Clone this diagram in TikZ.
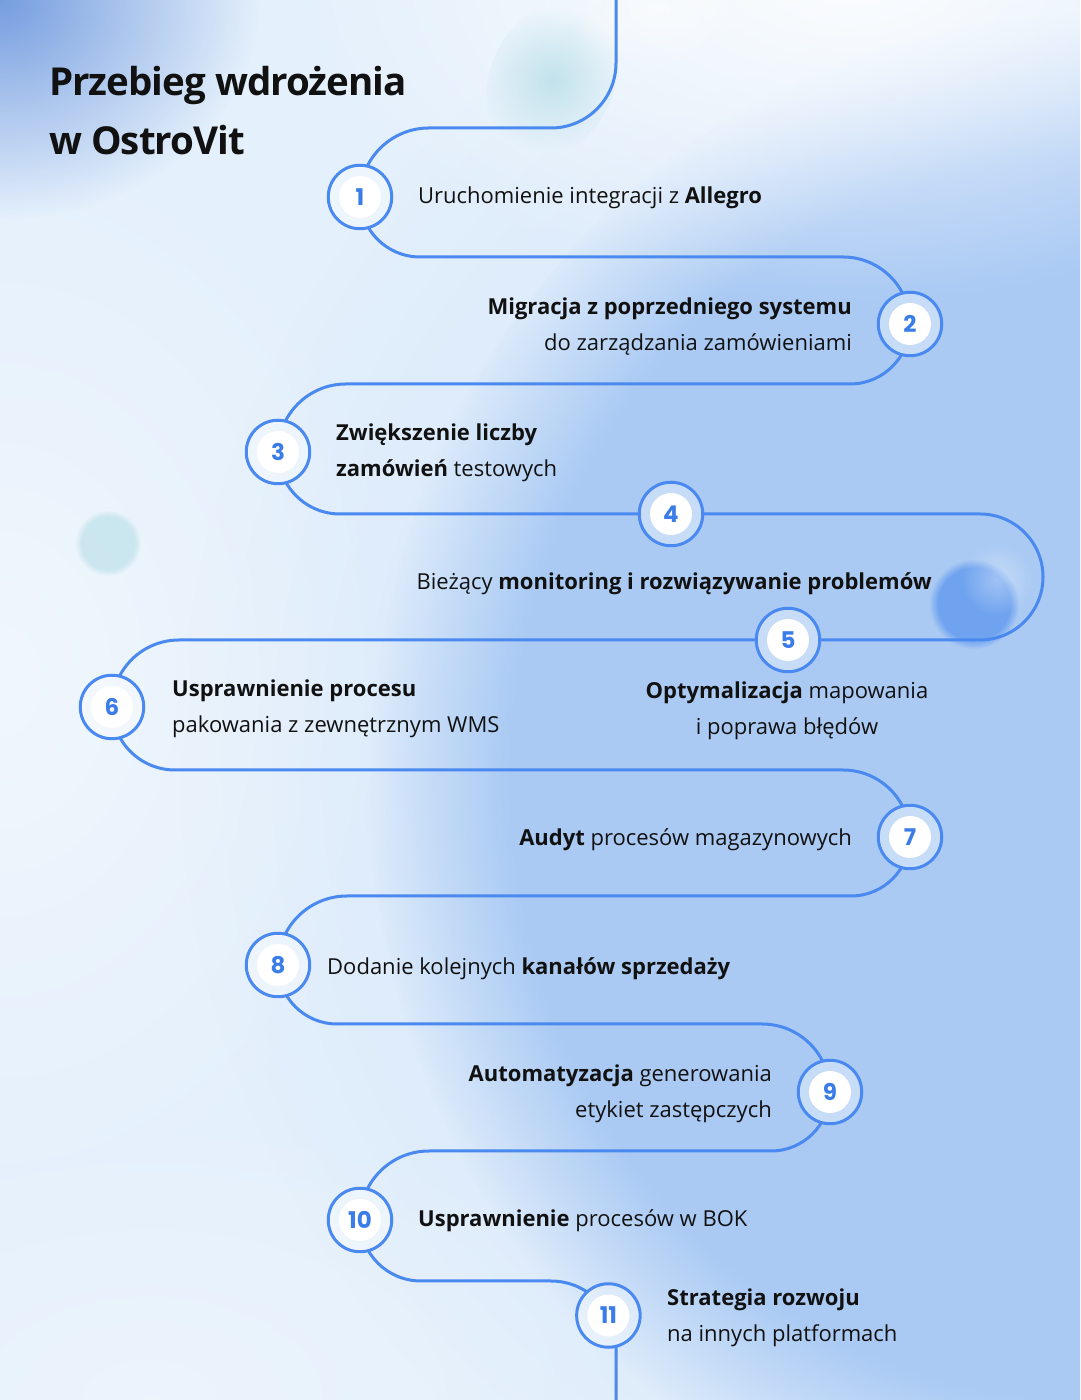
\documentclass[tikz,border=0pt]{standalone}
\usepackage{fontspec}
\setmainfont{Open Sans}
\newfontfamily\numfont{Poppins}
\usetikzlibrary{fadings}
\definecolor{track}{HTML}{4A89EF}
\definecolor{numblue}{HTML}{3A7CE8}
\definecolor{basebg}{HTML}{E4F0FC}
\definecolor{bluebg}{HTML}{AACAF4}
\definecolor{cornerblue}{HTML}{7099DE}
\definecolor{tealblob}{HTML}{BDE1EA}
\definecolor{blueblob}{HTML}{5C97EE}
\definecolor{ink}{HTML}{111111}
\tikzfading[name=fadeout, inner color=transparent!0, outer color=transparent!100]
\pgfdeclarelayer{bg}
\pgfdeclarelayer{trk}
\pgfsetlayers{bg,trk,main}
\begin{document}
\begin{tikzpicture}[x=1pt,y=1pt,
  marker/.style={circle, draw=track, line width=3pt, minimum size=63.5pt, inner sep=0pt,
    fill=white, fill opacity=0.35, text opacity=1, text=numblue,
    font=\numfont\bfseries\fontsize{23}{23}\selectfont,
    path picture={\fill[white, fill opacity=1] (path picture bounding box.center) circle[radius=21];}},
  desc/.style={font=\fontsize{22}{36}\selectfont, text=ink, inner sep=0pt},
  trackline/.style={draw=track, line width=3pt, line join=round},
]
\useasboundingbox (0,0) rectangle (1080,1400);

% ---------- background ----------
\begin{pgfonlayer}{bg}
\begin{scope}
\clip (0,0) rectangle (1080,1400);
\fill[basebg] (0,0) rectangle (1080,1400);
\fill[bluebg, opacity=0.5, path fading=fadeout] (1080,640) ellipse[x radius=900, y radius=900];
\fill[bluebg, path fading=circle with fuzzy edge 20 percent] (1090,620) ellipse[x radius=720, y radius=770];
\fill[white, opacity=0.9, path fading=fadeout] (850,1430) ellipse[x radius=560, y radius=330];
\fill[white, opacity=0.45, path fading=fadeout] (0,720) ellipse[x radius=420, y radius=560];
\fill[white, opacity=0.3, path fading=fadeout] (150,0) ellipse[x radius=500, y radius=300];
\fill[cornerblue, opacity=0.95, path fading=fadeout] (0,1400) ellipse[x radius=260, y radius=220];
\fill[tealblob, opacity=0.9, path fading=fadeout, rotate around={-25:(552,1320)}] (552,1320) ellipse[x radius=62, y radius=80];
\fill[white, opacity=0.5, path fading=fadeout] (655,1390) ellipse[x radius=90, y radius=60];
\fill[tealblob, opacity=0.7, path fading=circle with fuzzy edge 20 percent] (108,857) circle[radius=33];
\fill[blueblob, opacity=0.75, path fading=circle with fuzzy edge 20 percent] (974,796) circle[radius=45];
\fill[white, opacity=0.35, path fading=fadeout] (997,820) circle[radius=36];
\end{scope}
\end{pgfonlayer}

% ---------- title ----------
\node[anchor=base west, align=left, inner sep=0pt, text=ink,
      font=\bfseries\fontsize{38.5}{59}\selectfont\addfontfeature{LetterSpace=-2.5}] (title) at (49,1245)
      {Przebieg wdrożenia\\w OstroVit};

% ---------- markers ----------
\node[marker] (m1) at (360,1203) {1};
\node[marker] (m2) at (910,1076) {2};
\node[marker] (m3) at (278,948) {3};
\node[marker] (m4) at (671,886) {4};
\node[marker] (m5) at (788,760) {5};
\node[marker] (m6) at (112,693) {6};
\node[marker] (m7) at (910,563) {7};
\node[marker] (m8) at (278,435) {8};
\node[marker] (m9) at (830,308) {9};
\node[marker] (m10) at (360,180) {10};
\node[marker] (m11) at (608.4,84.5) {11};
\coordinate (topend) at (616,1400);
\coordinate (botend) at (616,0);

% ---------- texts (base = baseline of last line) ----------
\node[desc, anchor=base west] (t1) at (418,1196) {Uruchomienie integracji z \textbf{Allegro}};
\node[desc, anchor=base east, align=right] (t2) at (852,1049) {\textbf{Migracja z poprzedniego systemu}\\do zarządzania zamówieniami};
\node[desc, anchor=base west, align=left] (t3) at (336,923) {\textbf{Zwiększenie liczby}\\\textbf{zamówień} testowych};
\node[desc, anchor=base east] (t4) at (932,810) {Bieżący \textbf{monitoring i rozwiązywanie problemów}};
\node[desc, anchor=base, align=center] (t5) at (787,665) {\textbf{Optymalizacja} mapowania\\i poprawa błędów};
\node[desc, anchor=base west, align=left] (t6) at (172,667) {\textbf{Usprawnienie procesu}\\pakowania z zewnętrznym WMS};
\node[desc, anchor=base east] (t7) at (852,554) {\textbf{Audyt} procesów magazynowych};
\node[desc, anchor=base west] (t8) at (327,425) {Dodanie kolejnych \textbf{kanałów sprzedaży}};
\node[desc, anchor=base east, align=right] (t9) at (772,282) {\textbf{Automatyzacja} generowania\\etykiet zastępczych};
\node[desc, anchor=base west] (t10) at (418,173) {\textbf{Usprawnienie} procesów w BOK};
\node[desc, anchor=base west, align=left] (t11) at (667,58) {\textbf{Strategia rozwoju}\\na innych platformach};

% ---------- track ----------
\begin{pgfonlayer}{trk}
\begin{scope}[even odd rule]
\clip (-5,-5) rectangle (1085,1405)
  (m1.center) circle[radius=31] (m2.center) circle[radius=31]
  (m3.center) circle[radius=31] (m4.center) circle[radius=31]
  (m5.center) circle[radius=31] (m6.center) circle[radius=31]
  (m7.center) circle[radius=31] (m8.center) circle[radius=31]
  (m9.center) circle[radius=31] (m10.center) circle[radius=31]
  (m11.center) circle[radius=31];
\draw[trackline] (topend) -- (616,1337) arc[start angle=0,end angle=-90,radius=65]
  -- (429,1272) arc[start angle=90,end angle=180,radius=69] -- (m1.center);
\draw[trackline] (m1.center) arc[start angle=180,end angle=270,radius=60]
  -- (843,1143) arc[start angle=90,end angle=0,radius=67] -- (m2.center);
\draw[trackline] (m2.center) arc[start angle=0,end angle=-90,radius=60]
  -- (346,1016) arc[start angle=90,end angle=180,radius=68] -- (m3.center);
\draw[trackline] (m3.center) arc[start angle=180,end angle=270,radius=62] -- (m4.center);
\draw[trackline] (m4.center) -- (980,886) arc[start angle=90,end angle=-90,radius=63] -- (m5.center);
\draw[trackline] (m5.center) -- (179,760) arc[start angle=90,end angle=180,radius=67] -- (m6.center);
\draw[trackline] (m6.center) arc[start angle=180,end angle=270,radius=63]
  -- (843,630) arc[start angle=90,end angle=0,radius=67] -- (m7.center);
\draw[trackline] (m7.center) arc[start angle=0,end angle=-90,radius=59]
  -- (347,504) arc[start angle=90,end angle=180,radius=69] -- (m8.center);
\draw[trackline] (m8.center) arc[start angle=180,end angle=270,radius=59]
  -- (762,376) arc[start angle=90,end angle=0,radius=68] -- (m9.center);
\draw[trackline] (m9.center) arc[start angle=0,end angle=-90,radius=59]
  -- (429,249) arc[start angle=90,end angle=180,radius=69] -- (m10.center);
\draw[trackline] (m10.center) arc[start angle=180,end angle=270,radius=61]
  -- (551,119) arc[start angle=90,end angle=28,radius=65] -- (m11.center);
\draw[trackline] (m11.center) arc[start angle=28,end angle=0,radius=65] -- (botend);
\end{scope}
\end{pgfonlayer}
\end{tikzpicture}
\end{document}
